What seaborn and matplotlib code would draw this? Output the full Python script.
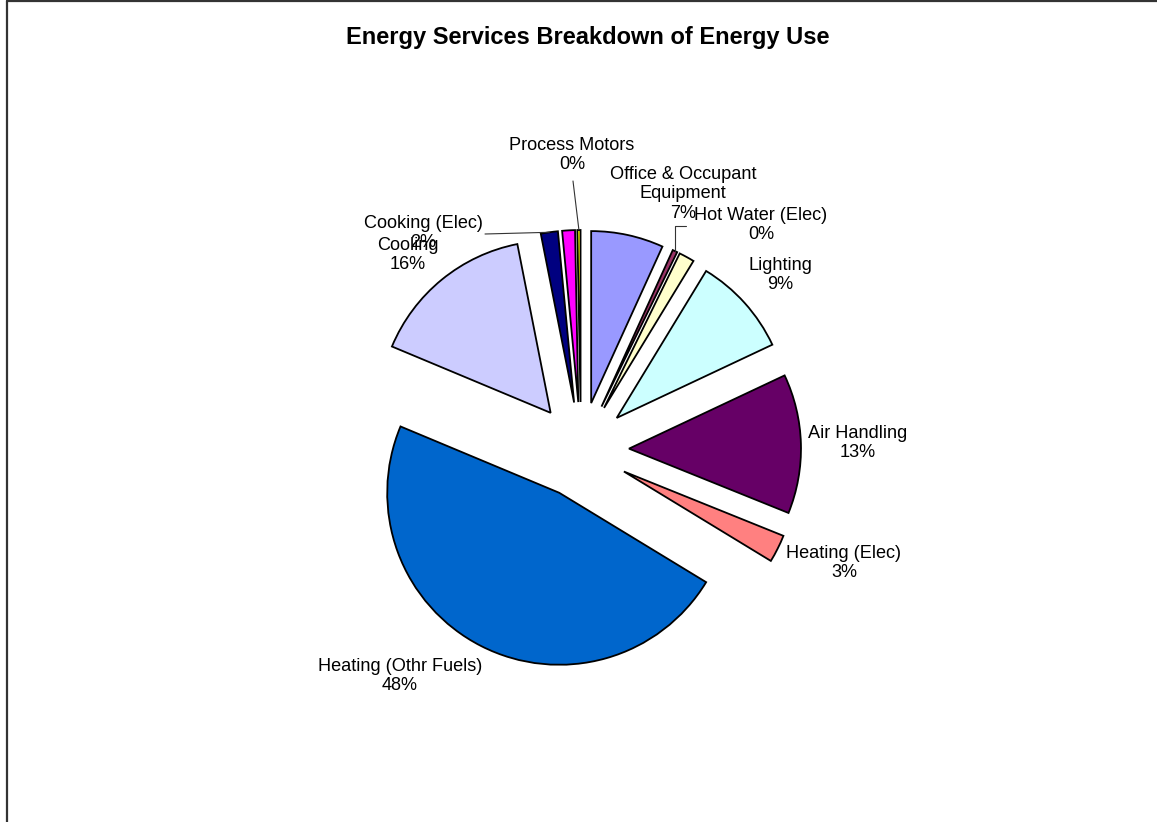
import matplotlib
matplotlib.use("Agg")
import matplotlib.pyplot as plt
import seaborn as sns
import numpy as np

# ---------------- data ----------------
categories = ["Office & Occupant Equipment", "Hot Water (Elec)", "Hot Water (Othr Fuels)",
              "Lighting", "Air Handling", "Heating (Elec)", "Heating (Othr Fuels)",
              "Cooling", "Cooking (Elec)", "Cooking (Othr Fuels)", "Process Motors"]
shares = [6.8, 0.45, 1.45, 9.3, 13.1, 2.6, 47.6, 15.6, 1.6, 1.2, 0.3]
slice_colors = ["#9999FF", "#993366", "#FFFFCC", "#CCFFFF", "#660066", "#FF8080",
                "#0066CC", "#CCCCFF", "#000080", "#FF00FF", "#FFFF00"]
label_names = ["Office & Occupant\nEquipment", "Hot Water (Elec)", None,
               "Lighting", "Air Handling", "Heating (Elec)", "Heating (Othr Fuels)",
               "Cooling", "Cooking (Elec)", None, "Process Motors"]
title = "Energy Services Breakdown of Energy Use"

# ---------------- layout ----------------
W, H = 1157, 822
sns.set_theme(style="white")
plt.rcParams["font.family"] = ["Liberation Sans", "DejaVu Sans"]

fig = plt.figure(figsize=(W / 100, H / 100), dpi=100)
ax = fig.add_axes([0, 0, 1, 1])


def py(y):
    return H - y


center = (581, py(450))
radius = 172
explode = [48] * len(shares)

wedges, _ = ax.pie(shares, colors=slice_colors, startangle=90, counterclock=False,
                   center=center, radius=radius, explode=explode, frame=True,
                   wedgeprops=dict(edgecolor="black", linewidth=1.3))

ax.set_xlim(0, W)
ax.set_ylim(0, H)
ax.set_aspect("equal")
ax.axis("off")

# label anchor positions (pixel centres of the text blocks)
label_pos = {
    0: (683, 194),
    1: (761, 225),
    3: (780, 275),
    4: (858, 443),
    5: (844, 563),
    6: (400, 676),
    7: (408, 255),
    8: (423, 233),
    10: (572, 155),
}
fs = 13.1
for i, pos in label_pos.items():
    txt = f"{label_names[i]}\n{round(shares[i]):.0f}%"
    ax.text(pos[0], py(pos[1]), txt, ha="center", va="center", fontsize=fs,
            color="black", linespacing=1.2)


def outer_mid(w):
    t = np.deg2rad((w.theta1 + w.theta2) / 2)
    cx, cy = w.center
    return cx + w.r * np.cos(t), cy + w.r * np.sin(t)


# leader lines
lc = "#333333"
x1, y1 = outer_mid(wedges[10])
ax.plot([573, x1], [py(181), y1], color=lc, lw=0.8)
x1, y1 = outer_mid(wedges[8])
ax.plot([485, x1], [py(234), y1], color=lc, lw=0.8)
x1, y1 = outer_mid(wedges[1])
ax.plot([686, x1, x1], [py(226), py(226), y1], color=lc, lw=0.8)

ax.text(588, py(38), title, ha="center", va="center", fontsize=17,
        fontweight="bold", color="black")

# chart-area border (left and top)
ax.plot([7, 7], [0, py(1.5)], color="#333333", lw=1.6, clip_on=False)
ax.plot([7, W], [py(1.5), py(1.5)], color="#333333", lw=1.6, clip_on=False)

fig.savefig("out.png", dpi=100, facecolor="white")
